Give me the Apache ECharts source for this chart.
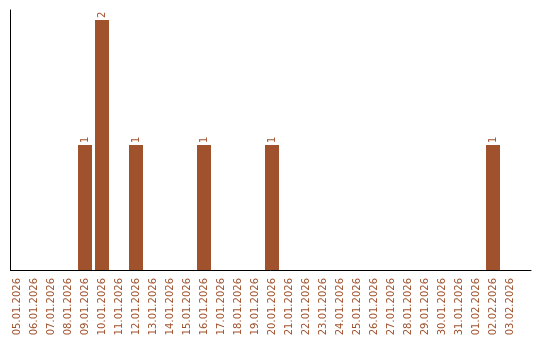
<!DOCTYPE html>
<html><head><meta charset="utf-8">
<script src="https://cdn.jsdelivr.net/npm/echarts@6/dist/echarts.min.js"></script>
<style>html,body{margin:0;padding:0;background:#fff}#c{width:540px;height:340px}</style>
</head><body><div id="c"></div>
<script>
const categories = ['05.01.2026','06.01.2026','07.01.2026','08.01.2026','09.01.2026','10.01.2026','11.01.2026','12.01.2026','13.01.2026','14.01.2026','15.01.2026','16.01.2026','17.01.2026','18.01.2026','19.01.2026','20.01.2026','21.01.2026','22.01.2026','23.01.2026','24.01.2026','25.01.2026','26.01.2026','27.01.2026','28.01.2026','29.01.2026','30.01.2026','31.01.2026','01.02.2026','02.02.2026','03.02.2026'];
const counts = [0,0,0,0,1,2,0,1,0,0,0,1,0,0,0,1,0,0,0,0,0,0,0,0,0,0,0,0,1,0];
const yMax = 2;
const col = '#A0522D';
const chart = echarts.init(document.getElementById('c'), null, {renderer:'canvas'});
chart.setOption({
  animation:false,
  backgroundColor:'#fff',
  textStyle:{fontFamily:'DejaVu Sans'},
  grid:[
    {left:8.5, width:510, top:20, bottom:70},
    {left:10.5, right:9, top:10, bottom:70}
  ],
  xAxis:[
    {type:'category', gridIndex:0, data:categories, boundaryGap:true,
     axisLine:{show:false}, axisTick:{show:false}, splitLine:{show:false},
     axisLabel:{rotate:90, color:col, fontSize:10, fontFamily:'DejaVu Sans', margin:8, interval:0}},
    {type:'category', gridIndex:1, data:[''], axisLine:{show:true, lineStyle:{color:'#000', width:1}},
     axisTick:{show:false}, axisLabel:{show:false}}
  ],
  yAxis:[
    {type:'value', gridIndex:0, min:0, max:yMax, axisLine:{show:false}, axisTick:{show:false},
     axisLabel:{show:false}, splitLine:{show:false}},
    {type:'value', gridIndex:1, min:0, max:1, axisLine:{show:true, lineStyle:{color:'#000', width:1}},
     axisTick:{show:false}, axisLabel:{show:false}, splitLine:{show:false}}
  ],
  series:[{
    type:'bar', xAxisIndex:0, yAxisIndex:0, data:counts, barWidth:14,
    itemStyle:{color:col},
    label:{show:true, position:'top', rotate:90, align:'left', verticalAlign:'middle', distance:2,
      color:col, fontSize:10, fontFamily:'DejaVu Sans',
      formatter:p => p.value ? String(p.value) : ''}
  }]
});
</script></body></html>
